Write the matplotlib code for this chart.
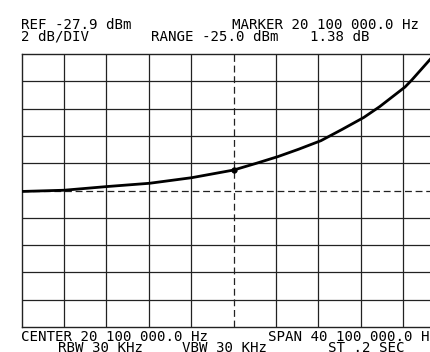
import numpy as np
import matplotlib
matplotlib.use("Agg")
import matplotlib.pyplot as plt

# Spectrum analyzer trace (MHz, dBm)
freq_mhz = [0.05, 4.07, 8.13, 12.15, 16.14, 20.1, 22.27, 24.27, 26.23,
            28.35, 30.34, 32.4, 33.9, 36.3, 36.95, 38.9]
level_dbm = [-37.97, -37.88, -37.61, -37.37, -36.96, -36.4, -35.9, -35.42,
             -34.88, -34.25, -33.43, -32.55, -31.76, -30.32, -29.8, -28.1]

marker_mhz = 20.1
marker_dbm = -36.4

REF_DBM = -27.9
DB_PER_DIV = 2
CENTER_MHZ = 20.1
SPAN_MHZ = 40.1
N_DIV = 10

header_top = ["REF -27.9 dBm", "MARKER 20 100 000.0 Hz"]
header_bot = ["2 dB/DIV", "RANGE -25.0 dBm", "1.38 dB"]
footer_top = ["CENTER 20 100 000.0 Hz", "SPAN 40 100 000.0 Hz"]
footer_bot = ["RBW 30 KHz", "VBW 30 KHz", "ST .2 SEC"]

W, H = 431, 352


def px(x, y):
    return x / W, 1 - y / H


def main():
    fig = plt.figure(figsize=(W / 100, H / 100), dpi=100)
    fig.patch.set_facecolor("white")

    left, right, top, bottom = 21.7, 445.7, 54, 327
    ax = fig.add_axes([left / W, 1 - bottom / H, (right - left) / W, (bottom - top) / H])

    x0 = CENTER_MHZ - SPAN_MHZ / 2
    x1 = CENTER_MHZ + SPAN_MHZ / 2
    y0 = REF_DBM - DB_PER_DIV * N_DIV
    ax.set_xlim(x0, x1)
    ax.set_ylim(y0, REF_DBM)

    # graticule, centre lines dashed
    dash = (0, (5.5, 3))
    xs = np.linspace(x0, x1, N_DIV + 1)
    ys = np.linspace(y0, REF_DBM, N_DIV + 1)
    for i, xv in enumerate(xs[1:-1], start=1):
        ls = dash if i == N_DIV // 2 else "-"
        ax.axvline(xv, color="#222222", lw=0.9, ls=ls, zorder=1)
    for i, yv in enumerate(ys[1:-1], start=1):
        ls = dash if i == N_DIV // 2 else "-"
        ax.axhline(yv, color="#222222", lw=0.9, ls=ls, zorder=1)

    ax.plot(freq_mhz, level_dbm, color="black", lw=2.0, zorder=3,
            solid_capstyle="round")
    ax.plot([marker_mhz], [marker_dbm], "o", color="black", ms=3.5, zorder=4)

    ax.set_xticks([])
    ax.set_yticks([])
    for sp in ax.spines.values():
        sp.set_color("#222222")
        sp.set_linewidth(1.0)

    font = dict(family="DejaVu Sans Mono", size=10.2, color="black", va="baseline")

    fig.text(*px(21, 29.3), header_top[0], **font)
    fig.text(*px(232, 29.3), header_top[1], **font)
    fig.text(*px(21, 40.7), header_bot[0], **font)
    fig.text(*px(151.5, 40.7), header_bot[1], **font)
    fig.text(*px(310, 40.7), header_bot[2], **font)

    fig.text(*px(21, 340.7), footer_top[0], **font)
    fig.text(*px(268, 340.7), footer_top[1], **font)
    fig.text(*px(58, 352.5), footer_bot[0], **font)
    fig.text(*px(182, 352.5), footer_bot[1], **font)
    fig.text(*px(328, 352.5), footer_bot[2], **font)

    fig.savefig("out.png", dpi=100)


if __name__ == "__main__":
    main()
